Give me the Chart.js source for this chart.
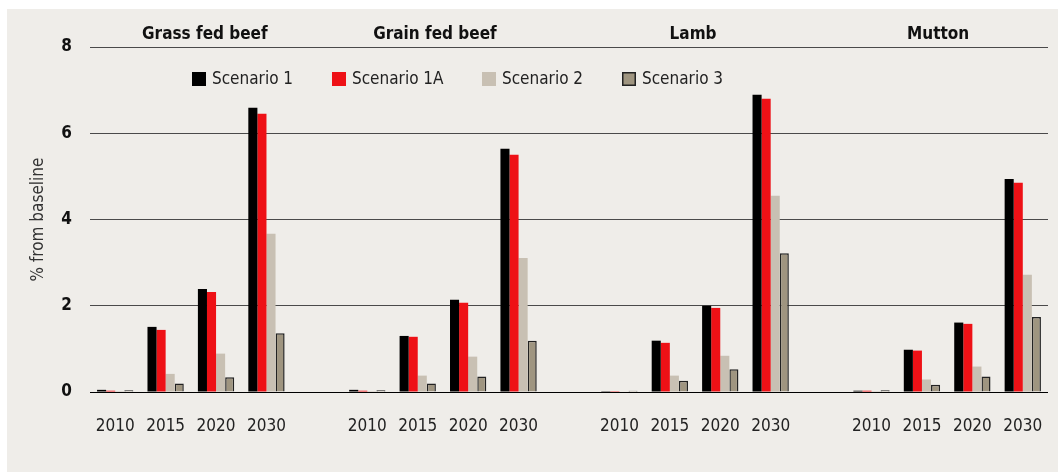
<!DOCTYPE html>
<html>
<head>
<meta charset="utf-8">
<script src="https://cdn.jsdelivr.net/npm/chart.js@4.4.1/dist/chart.umd.min.js"></script>
<style>
  html, body { margin: 0; padding: 0; background: #ffffff; }
  #wrap { position: absolute; left: 0; top: 0; width: 1058px; height: 472px; }
</style>
</head>
<body>
<div id="wrap"><canvas id="c" width="1058" height="472"></canvas></div>
<script>
const groups = ['Grass fed beef', 'Grain fed beef', 'Lamb', 'Mutton'];
const years = ['2010', '2015', '2020', '2030'];
const seriesNames = ['Scenario 1', 'Scenario 1A', 'Scenario 2', 'Scenario 3'];
const yTicks = [0, 2, 4, 6, 8];

// values per group, in year order
const scenario1  = [[0.05, 1.51, 2.39, 6.59], [0.05, 1.30, 2.14, 5.64], [0.02, 1.19, 2.00, 6.89], [0.03, 0.98, 1.61, 4.94]];
const scenario1A = [[0.03, 1.44, 2.32, 6.45], [0.03, 1.28, 2.07, 5.50], [0.02, 1.14, 1.95, 6.80], [0.03, 0.96, 1.58, 4.85]];
const scenario2  = [[0.02, 0.42, 0.89, 3.67], [0.02, 0.38, 0.82, 3.11], [0.01, 0.38, 0.84, 4.55], [0.02, 0.29, 0.59, 2.72]];
const scenario3  = [[0.04, 0.20, 0.34, 1.36], [0.04, 0.20, 0.36, 1.19], [0.03, 0.26, 0.53, 3.22], [0.04, 0.17, 0.36, 1.74]];

const FONT = "'Liberation Sans Narrow', 'DejaVu Sans Condensed', 'Liberation Sans', sans-serif";

// build categories: 4 years per group, one blank slot between groups
const labels = [];
groups.forEach((g, gi) => {
  years.forEach(y => labels.push(y));
  if (gi < groups.length - 1) labels.push('');
});
function flatten(arr) {
  const out = [];
  arr.forEach((vals, gi) => {
    vals.forEach(v => out.push(v));
    if (gi < arr.length - 1) out.push(null);
  });
  return out;
}

const styles = [
  { bg: '#000000', border: '#000000', bw: 0 },
  { bg: '#ee1116', border: '#ee1116', bw: 0 },
  { bg: '#c8c0b3', border: '#c8c0b3', bw: 0 },
  { bg: '#9f9580', border: '#222222', bw: 1.5 }
];
const allSeries = [scenario1, scenario1A, scenario2, scenario3];

const datasets = allSeries.map((s, i) => ({
  label: seriesNames[i],
  data: flatten(s),
  backgroundColor: styles[i].bg,
  borderColor: styles[i].border,
  borderWidth: styles[i].bw,
  categoryPercentage: 0.72,
  barPercentage: 1.0
}));

const bgPlugin = {
  id: 'bgPlugin',
  beforeDraw(chart) {
    const ctx = chart.ctx;
    ctx.save();
    ctx.fillStyle = '#ffffff';
    ctx.fillRect(0, 0, chart.width, chart.height);
    ctx.fillStyle = '#efede9';
    ctx.fillRect(7, 9, chart.width - 7, chart.height - 9);
    ctx.restore();
  }
};

const titleOffsets = [14, -8, -2, -9];
const groupTitles = {
  id: 'groupTitles',
  afterDraw(chart) {
    const ctx = chart.ctx;
    const x = chart.scales.x;
    ctx.save();
    ctx.font = 'bold 17px ' + FONT;
    ctx.fillStyle = '#111111';
    ctx.textAlign = 'center';
    ctx.textBaseline = 'alphabetic';
    groups.forEach((g, gi) => {
      const i1 = gi * 5 + 1, i2 = gi * 5 + 2;
      const cx = (x.getPixelForValue(i1) + x.getPixelForValue(i2)) / 2 + titleOffsets[gi];
      ctx.fillText(g, cx, 39);
    });
    ctx.restore();
  }
};

const customLegend = {
  id: 'customLegend',
  afterDraw(chart) {
    const ctx = chart.ctx;
    const starts = [192, 332, 482, 622];
    ctx.save();
    ctx.font = '17px ' + FONT;
    ctx.textAlign = 'left';
    ctx.textBaseline = 'middle';
    chart.data.datasets.forEach((ds, i) => {
      const bx = starts[i], by = 72;
      ctx.fillStyle = ds.backgroundColor;
      ctx.fillRect(bx, by, 14, 14);
      if (ds.borderWidth) {
        ctx.strokeStyle = ds.borderColor;
        ctx.lineWidth = 1.5;
        ctx.strokeRect(bx + 0.75, by + 0.75, 12.5, 12.5);
      }
      ctx.fillStyle = '#222222';
      ctx.fillText(ds.label, bx + 20, by + 7.5);
    });
    ctx.restore();
  }
};

new Chart(document.getElementById('c'), {
  type: 'bar',
  data: { labels: labels, datasets: datasets },
  plugins: [bgPlugin, groupTitles, customLegend],
  options: {
    responsive: false,
    animation: false,
    devicePixelRatio: 1,
    layout: { padding: { left: 0, right: 10, top: 47, bottom: 0 } },
    plugins: {
      legend: { display: false },
      tooltip: { enabled: false }
    },
    scales: {
      x: {
        offset: true,
        grid: { display: false, drawTicks: false },
        border: { display: false },
        ticks: {
          color: '#222222',
          font: { family: FONT, size: 17 },
          padding: 24,
          maxRotation: 0,
          autoSkip: false
        },
        afterFit(scale) {
          scale.height = 80;
          scale.paddingLeft = 0;
          scale.paddingRight = 0;
        }
      },
      y: {
        min: 0,
        max: 8,
        afterBuildTicks(scale) { scale.ticks = yTicks.map(v => ({ value: v })); },
        grid: {
          drawTicks: false,
          color: ctx => (ctx.tick && ctx.tick.value === 0) ? '#000000' : '#4a4a4a',
          lineWidth: 1
        },
        border: { display: false },
        ticks: {
          color: '#111111',
          font: { family: FONT, size: 17, weight: 'bold' },
          padding: 18
        },
        title: {
          display: true,
          text: '% from baseline',
          color: '#333333',
          font: { family: FONT, size: 17 },
          padding: { top: 28, bottom: 0 }
        },
        afterFit(scale) { scale.width = 90; }
      }
    }
  }
});
</script>
</body>
</html>
